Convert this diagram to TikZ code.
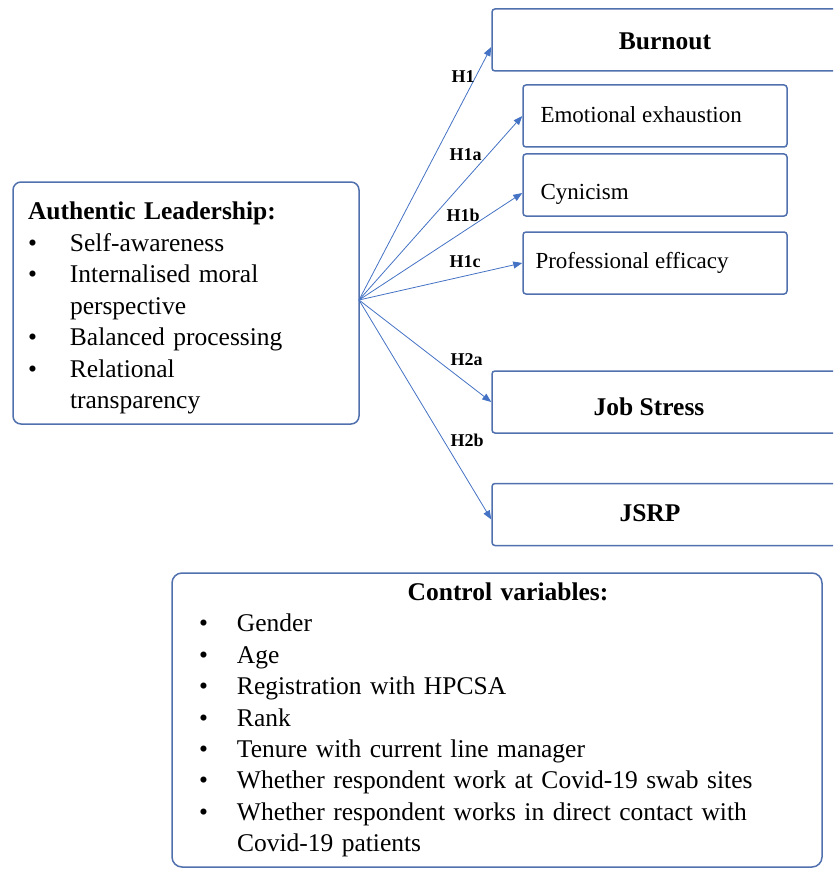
\documentclass[tikz,border=0pt]{standalone}
\usepackage{fontspec}
\setmainfont{Liberation Serif}
\usetikzlibrary{arrows.meta}
\definecolor{boxblue}{HTML}{5070AE}
\definecolor{arrowblue}{HTML}{4472C4}
\newcommand{\bul}[1]{\makebox[#1][l]{\textbullet}}

\begin{document}
\begin{tikzpicture}[x=1pt, y=-1pt,
  box/.style={draw=boxblue, line width=1.5pt, rounded corners=3pt, fill=white, inner sep=0pt},
  headtxt/.style={anchor=base, font=\fontsize{25.5}{30}\selectfont\bfseries},
  subtxt/.style={anchor=base west, font=\fontsize{23}{28}\selectfont},
  arr/.style={-{Triangle[length=9pt, width=7pt]}, arrowblue, line width=0.8pt},
  hyp/.style={anchor=base west, font=\fontsize{18}{20}\selectfont\bfseries}]
  \useasboundingbox (0,0) rectangle (833,869);
  \clip (0,0) rectangle (833,869);

  % independent variable
  \node[box, rounded corners=8pt, minimum width=346pt, minimum height=242pt,
    inner xsep=15pt, text width=316pt, align=left,
    font=\fontsize{25.5}{31.5}\selectfont] (lead) at (186,303)
    {\rule{0pt}{28pt}\textbf{Authentic Leadership:}\\
     \bul{42pt}Self-awareness\\
     \bul{42pt}Internalised moral\\
     \hspace*{42pt}perspective\\
     \bul{42pt}Balanced processing\\
     \bul{42pt}Relational\\
     \hspace*{42pt}transparency};
  \coordinate (hub) at (359,300);

  % outcomes
  \node[box, minimum width=360pt, minimum height=62pt] (burnout) at (672,40) {};
  \node[headtxt] (burnout-txt) at (665,49.5) {Burnout};
  \node[box, minimum width=264pt, minimum height=62pt] (emo) at (655,116) {};
  \node[subtxt] (emo-txt) at (537,123) {Emotional exhaustion};
  \node[box, minimum width=264pt, minimum height=62pt] (cyn) at (655,185) {};
  \node[subtxt] (cyn-txt) at (537,199) {Cynicism};
  \node[box, minimum width=264pt, minimum height=62pt] (eff) at (655,263) {};
  \node[subtxt] (eff-txt) at (532,268) {Professional efficacy};
  \node[box, minimum width=360pt, minimum height=62pt] (stress) at (672,402) {};
  \node[headtxt] (stress-txt) at (649,415) {Job Stress};
  \node[box, minimum width=360pt, minimum height=62pt] (jsrp) at (672,514.5) {};
  \node[headtxt] (jsrp-txt) at (650,521) {JSRP};

  % hypotheses
  \foreach \tgt/\dy in {burnout/-7, emo/0, cyn/-8, eff/0, stress/0, jsrp/-5}
    \draw[arr] (hub) -- ([yshift=\dy pt]\tgt.west);
  \foreach \x/\y/\txt in {448/83/H1, 446/160.5/H1a, 443/221.5/H1b,
                          446/267.5/H1c, 447/365/H2a, 447/446.5/H2b}
    \node[hyp] (lbl-\txt) at (\x,\y) {\txt};

  % controls
  \node[box, rounded corners=10pt, minimum width=650pt, minimum height=294pt,
    inner xsep=27pt, text width=596pt, align=left,
    font=\fontsize{25.5}{31.4}\selectfont] (ctrl) at (497,720)
    {\makebox[596pt]{\hspace*{22pt}\textbf{Control variables:}}\\
     \bul{38pt}Gender\\
     \bul{38pt}Age\\
     \bul{38pt}Registration with HPCSA\\
     \bul{38pt}Rank\\
     \bul{38pt}Tenure with current line manager\\
     \bul{38pt}Whether respondent work at Covid-19 swab sites\\
     \bul{38pt}Whether respondent works in direct contact with\\
     \hspace*{38pt}Covid-19 patients};
\end{tikzpicture}
\end{document}
